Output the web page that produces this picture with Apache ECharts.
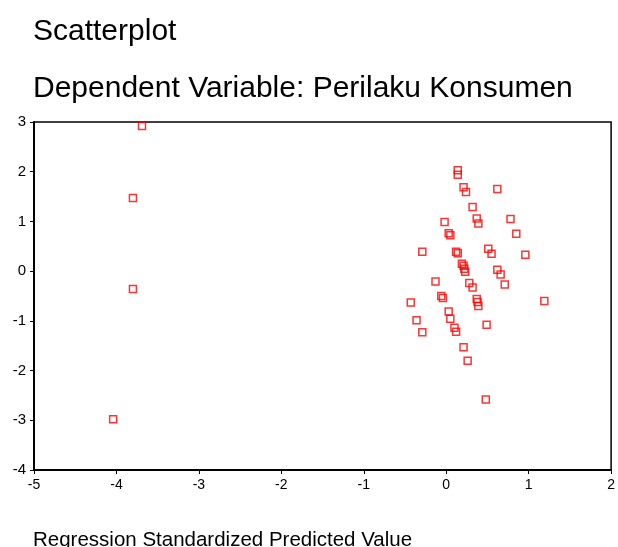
<!DOCTYPE html>
<html>
<head>
<meta charset="utf-8">
<script src="https://cdn.jsdelivr.net/npm/echarts@6/dist/echarts.min.js"></script>
<style>
  html, body { margin: 0; padding: 0; background: #fff; }
  #chart { width: 618px; height: 547px; }
</style>
</head>
<body>
<div id="chart"></div>
<script>
// Regression standardized predicted value (x) vs residual (y)
const xValues = [
  -3.69, -3.80, -3.80, -4.04,
  0.14, 0.14, 0.21, 0.24, 0.62, 0.32, -0.02, 0.37, 0.39, 0.78, 0.85,
  0.03, 0.05, -0.29, 0.12, 0.14, 0.51, 0.55, 0.96,
  0.19, 0.21, 0.22, 0.23, 0.62, 0.66, -0.13, 0.28, 0.32, 0.71,
  -0.06, -0.04, -0.43, 0.37, 0.38, 0.39, 1.19,
  0.03, 0.05, -0.36, -0.29, 0.10, 0.12, 0.49, 0.21, 0.26, 0.48
];
const yValues = [
  2.92, 1.47, -0.36, -2.98,
  2.03, 1.94, 1.69, 1.59, 1.65, 1.29, 0.99, 1.06, 0.96, 1.05, 0.75,
  0.76, 0.72, 0.39, 0.39, 0.36, 0.45, 0.35, 0.33,
  0.15, 0.11, 0.05, -0.01, 0.03, -0.07, -0.21, -0.24, -0.33, -0.27,
  -0.50, -0.54, -0.63, -0.56, -0.62, -0.70, -0.60,
  -0.81, -0.96, -0.99, -1.23, -1.14, -1.22, -1.08, -1.53, -1.80, -2.58
];
const xTicks = { min: -5, max: 2, interval: 1 };
const yTicks = { min: -4, max: 3, interval: 1 };

const points = xValues.map((x, i) => [x, yValues[i]]);

const chart = echarts.init(document.getElementById('chart'), null, { renderer: 'canvas' });

const font = '"Liberation Sans", Arial, sans-serif';

chart.setOption({
  animation: false,
  backgroundColor: '#ffffff',
  title: [
    {
      text: 'Scatterplot',
      left: 28, top: 12,
      textStyle: { fontFamily: font, fontSize: 30, fontWeight: 'normal', color: '#000' }
    },
    {
      text: 'Dependent Variable: Perilaku Konsumen',
      left: 28, top: 69,
      textStyle: { fontFamily: font, fontSize: 30, fontWeight: 'normal', color: '#000' }
    },
    {
      text: 'Regression Standardized Predicted Value',
      left: 28, top: 525,
      textStyle: { fontFamily: font, fontSize: 20.5, fontWeight: 'normal', color: '#000' }
    }
  ],
  grid: {
    left: 34,
    right: 5,
    top: 122,
    bottom: 77,
    show: true,
    borderColor: '#000',
    borderWidth: 1.5
  },
  xAxis: {
    type: 'value',
    min: xTicks.min,
    max: xTicks.max,
    interval: xTicks.interval,
    axisLine: { onZero: false, lineStyle: { color: '#000', width: 2 } },
    axisTick: { show: true, inside: false, length: 4, lineStyle: { color: '#000' } },
    axisLabel: { color: '#000', fontFamily: font, fontSize: 14, margin: 8 },
    splitLine: { show: false }
  },
  yAxis: {
    type: 'value',
    min: yTicks.min,
    max: yTicks.max,
    interval: yTicks.interval,
    axisLine: { onZero: false, lineStyle: { color: '#000', width: 2 } },
    axisTick: { show: true, inside: false, length: 4, lineStyle: { color: '#000' } },
    axisLabel: { color: '#000', fontFamily: font, fontSize: 15, margin: 8 },
    splitLine: { show: false }
  },
  series: [
    {
      type: 'scatter',
      data: points,
      symbol: 'rect',
      symbolSize: 7,
      itemStyle: {
        color: 'rgba(255,255,255,0)',
        borderColor: '#ff0000',
        borderWidth: 1.5
      }
    }
  ]
});
</script>
</body>
</html>
